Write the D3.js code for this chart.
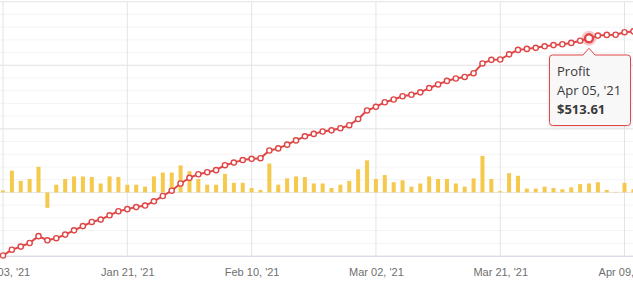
<!DOCTYPE html>
<html>
<head>
<meta charset="utf-8">
<script src="https://cdn.jsdelivr.net/npm/d3@7/dist/d3.min.js"></script>
<style>
  html, body { margin: 0; padding: 0; background: #fff; }
  svg { display: block; }
</style>
</head>
<body>
<svg id="chart" width="633" height="282"></svg>
<script>
const dates = [
  "2021-01-03", "2021-01-04", "2021-01-05", "2021-01-06", "2021-01-07", "2021-01-08",
  "2021-01-11", "2021-01-12", "2021-01-13", "2021-01-14", "2021-01-15",
  "2021-01-18", "2021-01-19", "2021-01-20", "2021-01-21", "2021-01-22",
  "2021-01-25", "2021-01-26", "2021-01-27", "2021-01-28", "2021-01-29",
  "2021-02-01", "2021-02-02", "2021-02-03", "2021-02-04", "2021-02-05",
  "2021-02-08", "2021-02-09", "2021-02-10", "2021-02-11", "2021-02-12",
  "2021-02-15", "2021-02-16", "2021-02-17", "2021-02-18", "2021-02-19",
  "2021-02-22", "2021-02-23", "2021-02-24", "2021-02-25", "2021-02-26",
  "2021-03-01", "2021-03-02", "2021-03-03", "2021-03-04", "2021-03-05",
  "2021-03-08", "2021-03-09", "2021-03-10", "2021-03-11", "2021-03-12",
  "2021-03-15", "2021-03-16", "2021-03-17", "2021-03-18", "2021-03-19",
  "2021-03-21", "2021-03-22", "2021-03-23", "2021-03-24", "2021-03-25", "2021-03-26",
  "2021-03-29", "2021-03-30", "2021-03-31", "2021-04-01",
  "2021-04-05", "2021-04-06", "2021-04-07", "2021-04-08", "2021-04-09", "2021-04-12"
];

// daily result (bars)
const daily = [
  1.20, 13.70, 7.28, 8.49, 16.13, -9.70, 4.85, 8.49, 10.07, 10.07,
  9.70, 5.64, 10.07, 9.70, 4.85, 4.85, 3.64, 10.07, 12.49, 12.49,
  16.98, 13.34, 8.49, 4.85, 4.85, 11.70, 6.06, 6.06, 2.79, 1.58,
  18.19, 4.85, 8.85, 10.07, 9.70, 5.64, 5.64, 2.79, 4.85, 7.28,
  14.55, 20.19, 8.49, 10.92, 6.43, 7.64, 3.64, 5.64, 10.07, 8.49,
  8.49, 5.64, 3.64, 8.85, 23.04, 8.49, 0.79, 12.13, 10.49, 2.43,
  2.43, 3.64, 2.79, 2.00, 3.21, 5.22, 5.63, 6.43, 1.58, 0.36,
  6.06, 2.00
];

// running profit (line)
const profit = [
  1.20, 14.90, 22.18, 30.67, 46.80, 37.10, 41.95, 50.44, 60.51, 70.58,
  80.28, 85.92, 95.99, 105.69, 110.54, 115.39, 119.03, 129.10, 141.59, 154.08,
  171.06, 184.40, 192.89, 197.74, 202.59, 214.29, 220.35, 226.41, 229.20, 230.78,
  248.97, 253.82, 262.67, 272.74, 282.44, 288.08, 293.72, 296.51, 301.36, 308.64,
  323.19, 343.38, 351.87, 362.79, 369.22, 376.86, 380.50, 386.14, 396.21, 404.70,
  413.19, 418.83, 422.47, 431.32, 454.36, 462.85, 463.64, 475.77, 486.26, 488.69,
  491.12, 494.76, 497.55, 499.55, 502.76, 507.98, 513.61, 520.04, 521.62, 521.98,
  528.04, 530.04
];

const tickDates = ["2021-01-03", "2021-01-21", "2021-02-10", "2021-03-02", "2021-03-21", "2021-04-09"];
const profitTicks = [0, 150, 300, 450, 600];
const hoverDate = "2021-04-05";
const seriesName = "Profit";

const svg = d3.select("#chart");
const parse = d3.timeParse("%Y-%m-%d");
const fmt = d3.timeFormat("%b %d, '%y");

const plotTop = 1.7, plotBottom = 256;

const x = d3.scalePoint()
  .domain(dates)
  .range([3, 3 + (dates.length - 1) * 8.879]);

const yLine = d3.scaleLinear().domain([0, 600]).range([plotBottom, plotTop]);
const yBar = d3.scaleLinear().domain([-40, 120]).range([plotBottom, plotTop]);

// horizontal grid: faint minor rows, stronger major rows
const minor = d3.range(0, 601, 30);
svg.append("g").selectAll("line")
  .data(minor)
  .join("line")
  .attr("x1", 0).attr("x2", 633)
  .attr("y1", d => yLine(d)).attr("y2", d => yLine(d))
  .attr("stroke", "#f4f4f4")
  .attr("stroke-width", 1);

svg.append("g").selectAll("line")
  .data(profitTicks)
  .join("line")
  .attr("x1", 0).attr("x2", 633)
  .attr("y1", d => yLine(d)).attr("y2", d => yLine(d))
  .attr("stroke", "#e6e6e6")
  .attr("stroke-width", 1);

// vertical grid at the labelled dates
svg.append("g").selectAll("line")
  .data(tickDates)
  .join("line")
  .attr("x1", d => x(d)).attr("x2", d => x(d))
  .attr("y1", plotTop).attr("y2", plotBottom)
  .attr("stroke", "#e4e4e4")
  .attr("stroke-width", 1);

// x axis
const xAxis = d3.axisBottom(x)
  .tickValues(tickDates)
  .tickSize(0)
  .tickPadding(12)
  .tickFormat(d => fmt(parse(d)));

const gx = svg.append("g")
  .attr("transform", `translate(0,${plotBottom})`)
  .call(xAxis);
gx.select(".domain").attr("stroke", "#dcdde6");
gx.selectAll("text")
  .attr("fill", "#6f6f6f")
  .attr("font-family", "'Liberation Sans', Arial, sans-serif")
  .attr("font-size", "11px");

// bars
svg.append("g").selectAll("rect")
  .data(daily)
  .join("rect")
  .attr("x", (d, i) => x(dates[i]) - 2)
  .attr("width", 4)
  .attr("y", d => Math.min(yBar(d), yBar(0)))
  .attr("height", d => Math.abs(yBar(d) - yBar(0)))
  .attr("fill", "#f5c94c");

// profit line with markers
const line = d3.line()
  .x((d, i) => x(dates[i]))
  .y(d => yLine(d));

svg.append("path")
  .datum(profit)
  .attr("d", line)
  .attr("fill", "none")
  .attr("stroke", "#e04646")
  .attr("stroke-width", 2)
  .attr("stroke-linejoin", "round");

svg.append("g").selectAll("circle")
  .data(profit)
  .join("circle")
  .attr("cx", (d, i) => x(dates[i]))
  .attr("cy", d => yLine(d))
  .attr("r", 2.6)
  .attr("fill", "#fff")
  .attr("stroke", "#e04646")
  .attr("stroke-width", 1.4);

// hovered point
const hi = dates.indexOf(hoverDate);
const hx = x(hoverDate), hy = yLine(profit[hi]);

svg.append("circle")
  .attr("cx", hx).attr("cy", hy).attr("r", 7.5)
  .attr("fill", "#e04646").attr("fill-opacity", 0.28);
svg.append("circle")
  .attr("cx", hx).attr("cy", hy).attr("r", 4)
  .attr("fill", "#fff")
  .attr("stroke", "#e04646")
  .attr("stroke-width", 2.4);

// tooltip box with notch
const defs = svg.append("defs");
const f = defs.append("filter").attr("id", "shadow")
  .attr("x", "-20%").attr("y", "-20%").attr("width", "140%").attr("height", "140%");
f.append("feDropShadow")
  .attr("dx", 0).attr("dy", 1).attr("stdDeviation", 1.5)
  .attr("flood-color", "#000").attr("flood-opacity", 0.12);

const bx0 = 549.5, bx1 = 630.5, by0 = 55, by1 = 125.5, rr = 3;
const tip = `M${bx0 + rr},${by0} L${hx - 6},${by0} L${hx},${hy + 10} L${hx + 6},${by0}
  L${bx1 - rr},${by0} Q${bx1},${by0} ${bx1},${by0 + rr}
  L${bx1},${by1 - rr} Q${bx1},${by1} ${bx1 - rr},${by1}
  L${bx0 + rr},${by1} Q${bx0},${by1} ${bx0},${by1 - rr}
  L${bx0},${by0 + rr} Q${bx0},${by0} ${bx0 + rr},${by0} Z`;

svg.append("path")
  .attr("d", tip)
  .attr("fill", "#f8f8f8")
  .attr("stroke", "#e04646")
  .attr("stroke-width", 1)
  .attr("filter", "url(#shadow)");

const tipText = [
  { t: seriesName, y: 76, w: 400 },
  { t: fmt(parse(hoverDate)), y: 95, w: 400 },
  { t: "$" + profit[hi].toFixed(2), y: 114, w: 700 }
];

svg.append("g").selectAll("text")
  .data(tipText)
  .join("text")
  .attr("x", 557)
  .attr("y", d => d.y)
  .attr("font-family", "'Open Sans', sans-serif")
  .attr("font-size", "13px")
  .attr("font-weight", d => d.w)
  .attr("fill", "#3a3a3a")
  .text(d => d.t);
</script>
</body>
</html>
